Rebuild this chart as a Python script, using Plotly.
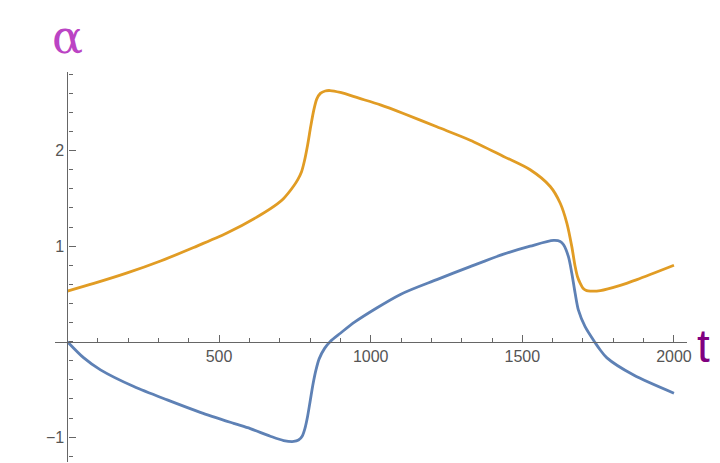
import plotly.graph_objects as go

# orange curve (upper)
t_upper = [0, 87, 197, 307, 416, 526, 636, 691, 713, 746, 760, 772, 782, 792, 802, 812,
           822, 834, 850, 866, 900, 961, 1032, 1108, 1218, 1328, 1438, 1526, 1592, 1625,
           1647, 1663, 1674, 1682, 1691, 1700, 1712, 1724, 1757, 1823, 1878, 2000]
a_upper = [0.53, 0.61, 0.72, 0.845, 0.986, 1.137, 1.326, 1.44, 1.50, 1.63, 1.70, 1.78,
           1.90, 2.06, 2.25, 2.42, 2.54, 2.60, 2.625, 2.63, 2.61, 2.55, 2.48, 2.39, 2.25,
           2.11, 1.94, 1.80, 1.625, 1.45, 1.24, 0.998, 0.79, 0.68, 0.61, 0.56, 0.535,
           0.53, 0.535, 0.59, 0.65, 0.80]

# blue curve (lower)
t_lower = [0, 54, 109, 219, 329, 438, 548, 603, 669, 713, 746, 762, 774, 783, 792, 801,
           810, 820, 830, 848, 866, 900, 949, 1098, 1218, 1328, 1438, 1526, 1603, 1625,
           1636, 1652, 1663, 1674, 1685, 1707, 1740, 1757, 1779, 1867, 2000]
a_lower = [0.0, -0.17, -0.295, -0.47, -0.61, -0.74, -0.855, -0.91, -0.99, -1.035, -1.045,
           -1.03, -0.99, -0.91, -0.78, -0.61, -0.44, -0.29, -0.18, -0.07, 0.0, 0.088,
           0.21, 0.495, 0.65, 0.786, 0.916, 1.0, 1.06, 1.05, 1.015, 0.89, 0.72, 0.51,
           0.33, 0.157, -0.01, -0.087, -0.17, -0.35, -0.54]

x_ticks = [500, 1000, 1500, 2000]
y_ticks = [-1, 1, 2]
x_range = [-41, 2043]
y_range = [-1.26, 2.824]

fig = go.Figure()
fig.add_trace(go.Scatter(x=t_upper, y=a_upper, mode='lines',
                         line=dict(color='#E19C24', width=2.8, shape='spline', smoothing=0.8)))
fig.add_trace(go.Scatter(x=t_lower, y=a_lower, mode='lines',
                         line=dict(color='#5E81B5', width=2.8, shape='spline', smoothing=0.8)))

# axes cross at the origin, like Mathematica's default plot
x_pos = (0 - y_range[0]) / (y_range[1] - y_range[0])
y_pos = (0 - x_range[0]) / (x_range[1] - x_range[0])

tick_font = dict(family='Liberation Sans', size=16, color='#555555')

# figure is 8px smaller than the window: the page body has an 8px margin
fig.update_layout(
    width=712, height=455,
    margin=dict(l=47, r=33, t=64, b=1),
    plot_bgcolor='white', paper_bgcolor='white',
    showlegend=False,
    xaxis=dict(range=x_range, anchor='free', position=x_pos, automargin=False,
               showline=True, linecolor='#666666', linewidth=1.2,
               showgrid=False, zeroline=False,
               tickvals=x_ticks, ticks='inside', ticklen=7, tickcolor='#666666',
               tickfont=tick_font,
               minor=dict(dtick=100, ticks='inside', ticklen=4, tickcolor='#666666')),
    yaxis=dict(range=y_range, anchor='free', position=y_pos, automargin=False,
               showline=True, linecolor='#666666', linewidth=1.2,
               showgrid=False, zeroline=False,
               tickvals=y_ticks, ticks='inside', ticklen=7, tickcolor='#666666',
               tickfont=tick_font,
               minor=dict(dtick=0.2, tick0=0, ticks='inside', ticklen=4, tickcolor='#666666')),
)

# axis labels placed like Mathematica's AxesLabel
fig.add_annotation(x=y_pos, y=1.09, xref='paper', yref='paper', text='α', showarrow=False,
                   xanchor='center', yanchor='middle',
                   font=dict(family='DejaVu Serif', size=46, color='#BB44C4'))
fig.add_annotation(x=1.026, y=0.297, xref='paper', yref='paper', text='t', showarrow=False,
                   xanchor='center', yanchor='middle',
                   font=dict(family='Liberation Sans', size=46, color='#800080'))

fig.write_html("out.html")
